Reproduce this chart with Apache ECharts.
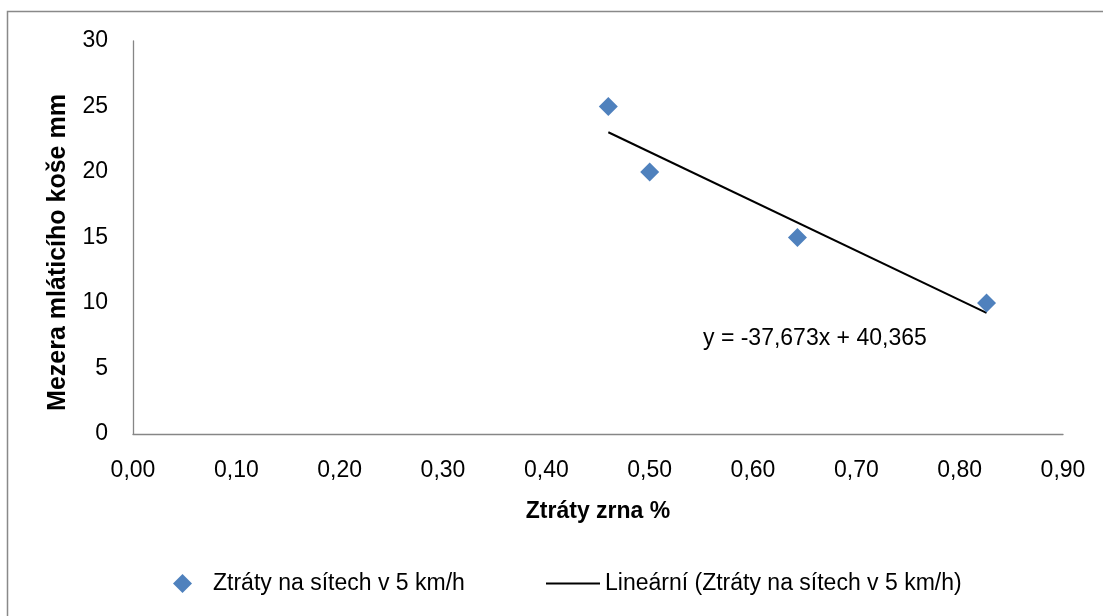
<!DOCTYPE html>
<html>
<head>
<meta charset="utf-8">
<style>
html,body{margin:0;padding:0;background:#fff;}
#main{width:1103px;height:616px;}
</style>
<script src="https://cdn.jsdelivr.net/npm/echarts@6/dist/echarts.min.js"></script>
</head>
<body>
<div id="main"></div>
<script>
// Data
var xLosses = [0.46, 0.50, 0.643, 0.826];      // Ztráty zrna %
var yGap = [25, 20, 15, 10];                   // Mezera mláticího koše mm
var trendSlope = -37.673;
var trendIntercept = 40.365;
var trendRange = [0.46, 0.826];
var seriesName = 'Ztráty na sítech v 5 km/h';
var trendName = 'Lineární (Ztráty na sítech v 5 km/h)';
var equationText = 'y = -37,673x + 40,365';
var equationAnchor = [0.5516, 7.25];

var scatterData = xLosses.map(function (x, i) { return [x, yGap[i]]; });
var trendData = trendRange.map(function (x) { return [x, trendSlope * x + trendIntercept]; });

var FONT = '"Liberation Sans", Arial, sans-serif';
var chart = echarts.init(document.getElementById('main'), null, {renderer: 'canvas'});
chart.setOption({
  animation: false,
  backgroundColor: '#ffffff',
  textStyle: {fontFamily: FONT, color: '#000'},
  graphic: [{
    type: 'rect', silent: true, z: -1,
    shape: {x: 7.5, y: 11.5, width: 1200, height: 800},
    style: {fill: 'none', stroke: '#898989', lineWidth: 1.5}
  }],
  grid: {left: 133, right: 40, top: 41, bottom: 182},
  xAxis: {
    type: 'value', min: 0, max: 0.9, interval: 0.1,
    name: 'Ztráty zrna %', nameLocation: 'middle', nameGap: 66,
    nameTextStyle: {fontFamily: FONT, fontSize: 23, fontWeight: 'bold', color: '#000'},
    axisLine: {show: true, lineStyle: {color: '#868686', width: 1.3}},
    axisTick: {show: false},
    splitLine: {show: false},
    axisLabel: {
      fontFamily: FONT, fontSize: 23, color: '#000', margin: 25,
      formatter: function (v) { return v.toFixed(2).replace('.', ','); }
    }
  },
  yAxis: {
    type: 'value', min: 0, max: 30, interval: 5,
    name: 'Mezera mláticího koše mm', nameLocation: 'middle', nameGap: 62,
    nameTextStyle: {fontFamily: FONT, fontSize: 25, fontWeight: 'bold', color: '#000', padding: [0, 30, 0, 0]},
    axisLine: {show: true, lineStyle: {color: '#868686', width: 1.3}},
    axisTick: {show: false},
    splitLine: {show: false},
    axisLabel: {fontFamily: FONT, fontSize: 23, color: '#000', margin: 25}
  },
  legend: [{
    data: [{name: seriesName, icon: 'diamond', itemStyle: {color: '#4F81BD', opacity: 1}}],
    left: 168, top: 567,
    itemWidth: 19, itemHeight: 19,
    textStyle: {fontFamily: FONT, fontSize: 23, color: '#000', padding: [0, 0, 0, 16]},
    selectedMode: false
  }, {
    data: [{name: trendName, icon: 'rect', itemStyle: {color: '#000'}}],
    left: 541, top: 567,
    itemWidth: 54, itemHeight: 2,
    textStyle: {fontFamily: FONT, fontSize: 23, color: '#000'},
    selectedMode: false
  }],
  series: [{
    name: seriesName, type: 'scatter', symbol: 'diamond', symbolSize: 19,
    itemStyle: {color: '#4F81BD', opacity: 1},
    data: scatterData, z: 3
  }, {
    name: trendName, type: 'line', showSymbol: false, symbol: 'none',
    lineStyle: {color: '#000', width: 2},
    itemStyle: {color: '#000'},
    data: trendData, z: 2,
    markPoint: {
      symbol: 'circle', symbolSize: 0,
      label: {show: true, position: 'right', distance: 0, fontFamily: FONT, fontSize: 23, color: '#000',
              formatter: equationText},
      data: [{coord: equationAnchor}]
    }
  }]
});
</script>
</body>
</html>
